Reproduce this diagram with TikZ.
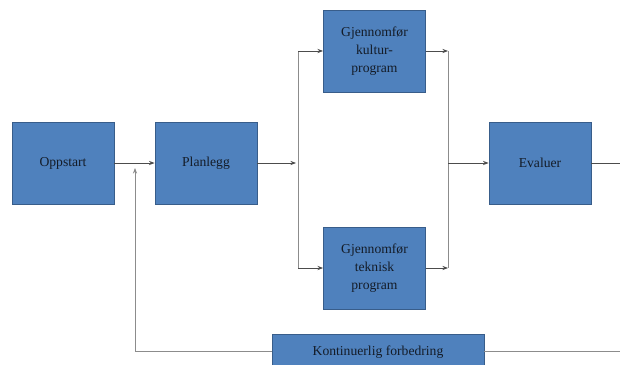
\documentclass[tikz,border=0pt]{standalone}
\usepackage{fontspec}
\setmainfont{Liberation Serif}
\usetikzlibrary{arrows.meta, calc}
\definecolor{boxfill}{HTML}{4F81BD}
\definecolor{boxline}{HTML}{385D8A}
\definecolor{boxtext}{HTML}{141C28}
\tikzset{%
    box/.style={rectangle, draw=boxline, fill=boxfill, line width=0.6pt, minimum width=2.55cm, minimum height=2.05cm, align=center, text=boxtext, font=\fontsize{9.7}{12.6}\selectfont, inner sep=1pt},
    lin/.style={line width=0.6pt, draw=black!45},
    lina/.style={line width=0.6pt, draw=black!70, -{Stealth[length=4pt, width=3pt]}},
}
\begin{document}
\begin{tikzpicture}
    \useasboundingbox (0,0) rectangle (15.5,-9.125);
    \clip (0,0) rectangle (15.5,-9.125);
    \node[box] (oppstart) at (1.575,-4.075) {Oppstart};
    \node[box] (planlegg) at (5.15,-4.075) {Planlegg};
    \node[box] (kultur) at (9.3625,-1.275) {Gjennomfør\\kultur-\\program};
    \node[box] (teknisk) at (9.3625,-6.7) {Gjennomfør\\teknisk\\program};
    \node[box] (evaluer) at (13.5,-4.075) {Evaluer};
    \node[box, minimum width=5.3cm, minimum height=0.9cm] (forbedring) at (9.45,-8.8) {Kontinuerlig forbedring};
    \coordinate (split) at (7.45,-4.075);
    \coordinate (join) at (11.2,-4.075);
    \coordinate (fb) at (3.375,-4.2);
    \coordinate (outa) at (15.5,-4.075);
    \coordinate (outb) at (15.5,-8.78);
    \draw [lina] (oppstart) -- (planlegg);
    \draw [lina] (planlegg) -- ($(split)+(-0.05,0)$);
    \draw [lin] (split |- kultur) -- (split |- teknisk);
    \draw [lina] (split |- kultur) -- (kultur);
    \draw [lina] (split |- teknisk) -- (teknisk);
    \draw [lina] (kultur) -- (join |- kultur);
    \draw [lina] (teknisk) -- (join |- teknisk);
    \draw [lin] (join |- kultur) -- (join |- teknisk);
    \draw [lina] (join) -- (evaluer);
    \draw [lin, draw=black!70] (evaluer) -- (outa);
    \draw [lin] (forbedring.east |- outb) -- (outb);
    \draw [lin] (forbedring.west |- outb) -| (fb |- outb);
    \draw [lina, draw=black!45, -{Stealth[length=4pt, width=3pt, fill=black!75]}] (fb |- outb) -- (fb);
\end{tikzpicture}
\end{document}
